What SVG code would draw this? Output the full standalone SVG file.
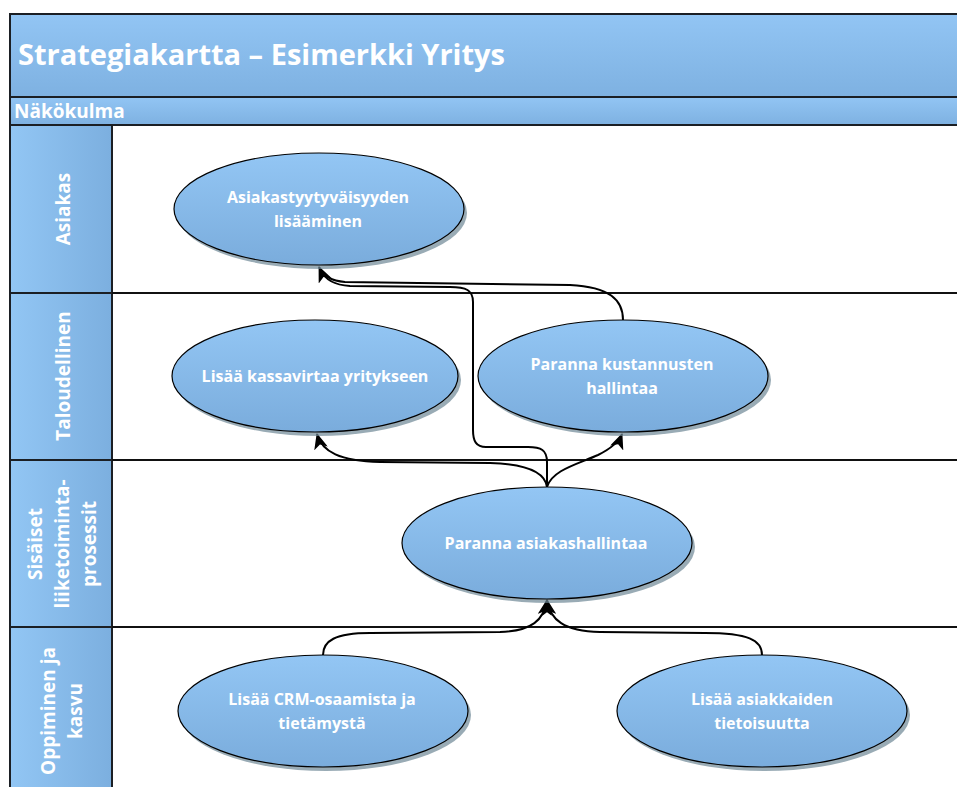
<svg xmlns="http://www.w3.org/2000/svg" width="957" height="787" viewBox="0 0 957 787">
  <defs>
    <linearGradient id="bandGrad" x1="0" y1="0" x2="0" y2="1">
      <stop offset="0" stop-color="#92c5f4"/>
      <stop offset="1" stop-color="#7eb1e1"/>
    </linearGradient>
    <linearGradient id="colGrad" x1="0" y1="0" x2="1" y2="0">
      <stop offset="0" stop-color="#92c6f4"/>
      <stop offset="1" stop-color="#7cafdf"/>
    </linearGradient>
    <linearGradient id="nodeGrad" x1="0" y1="0" x2="0" y2="1">
      <stop offset="0" stop-color="#93c6f4"/>
      <stop offset="1" stop-color="#7aacdc"/>
    </linearGradient>
    <marker id="arrow" viewBox="0 0 16 14" refX="15" refY="7" markerWidth="16" markerHeight="14" markerUnits="userSpaceOnUse" orient="auto">
      <path d="M0,0 L16,7 L0,14 L4,7 Z" fill="#000"/>
    </marker>
  </defs>
  <style>
    .band { fill: url(#bandGrad); stroke: #1b1f24; stroke-width: 2; }
    .col { fill: url(#colGrad); stroke: #1b1f24; stroke-width: 2; }
    .sep { stroke: #111; stroke-width: 2; fill: none; }
    .node { fill: url(#nodeGrad); stroke: #000; stroke-width: 1.2; }
    .shadow { fill: #6d8796; opacity: 0.7; }
    .title { font-family: "Open Sans", "Liberation Sans", sans-serif; font-weight: bold; fill: #fff; }
    .lane { font-family: "Open Sans", "Liberation Sans", sans-serif; font-weight: bold; font-size: 19px; fill: #fff; text-anchor: middle; }
    .label { font-family: "Open Sans", "Liberation Sans", sans-serif; font-weight: bold; font-size: 16px; fill: #fff; text-anchor: middle; }
    .conn { fill: none; stroke: #000; stroke-width: 2; }
  </style>

  <!-- header bands -->
  <g id="header">
    <rect class="band" x="10" y="14" width="960" height="83"/>
    <text class="title" x="18" y="65" font-size="29">Strategiakartta – Esimerkki Yritys</text>
    <rect class="band" x="10" y="97" width="960" height="28"/>
    <text class="title" x="14" y="118" font-size="19">Näkökulma</text>
  </g>

  <!-- perspective column and lane separators -->
  <g id="lanes">
    <rect class="col" x="10" y="125" width="102" height="168"/>
    <rect class="col" x="10" y="293" width="102" height="167"/>
    <rect class="col" x="10" y="460" width="102" height="167"/>
    <rect class="col" x="10" y="627" width="102" height="170"/>
    <line class="sep" x1="112" y1="293" x2="960" y2="293"/>
    <line class="sep" x1="112" y1="460" x2="960" y2="460"/>
    <line class="sep" x1="112" y1="627" x2="960" y2="627"/>
    <text class="lane" transform="rotate(-90,0,0)" x="-209" y="70">Asiakas</text>
    <text class="lane" transform="rotate(-90,0,0)" x="-376" y="70">Taloudellinen</text>
    <text class="lane" transform="rotate(-90,0,0)" x="-544" y="42">Sisäiset</text>
    <text class="lane" transform="rotate(-90,0,0)" x="-544" y="69">liiketoiminta-</text>
    <text class="lane" transform="rotate(-90,0,0)" x="-544" y="96">prosessit</text>
    <text class="lane" transform="rotate(-90,0,0)" x="-711" y="55">Oppiminen ja</text>
    <text class="lane" transform="rotate(-90,0,0)" x="-711" y="82">kasvu</text>
  </g>

  <!-- connectors -->
  <g id="connectors">
    <path class="conn" marker-end="url(#arrow)" d="M547,487 C545,472 525,464 490,463 L380,462 C340,461 322,452 317,434"/>
    <path class="conn" marker-end="url(#arrow)" d="M547,487 C552,470 578,464 598,455 C612,448 619,442 622,434"/>
    <path class="conn" d="M547,487 L547,462 C547,450 541,447 528,447 L486,447 C476,447 473,441 473,430 L473,302 C473,290 466,287 450,287 L350,286 C334,285 325,280 321,270"/>
    <path class="conn" marker-end="url(#arrow)" d="M623,320 C623,300 610,287 570,285 L345,282 C332,281 323,276 319,267"/>
    <path class="conn" marker-end="url(#arrow)" d="M323,655 C323,641 335,633 370,633 L500,632 C532,631 544,620 547,600"/>
    <path class="conn" marker-end="url(#arrow)" d="M762,655 C762,640 748,633 705,633 L600,632 C564,631 550,620 547,600"/>
  </g>

  <!-- objectives -->
  <g id="node-asiakastyytyvaisyys">
    <ellipse class="shadow" cx="322" cy="213" rx="145" ry="56"/>
    <ellipse class="node" cx="319" cy="209" rx="145" ry="56"/>
    <text class="label" x="318" y="203">Asiakastyytyväisyyden</text>
    <text class="label" x="318" y="227">lisääminen</text>
  </g>
  <g id="node-kassavirta">
    <ellipse class="shadow" cx="318" cy="380" rx="143" ry="56"/>
    <ellipse class="node" cx="315" cy="376" rx="143" ry="56"/>
    <text class="label" x="315" y="382">Lisää kassavirtaa yritykseen</text>
  </g>
  <g id="node-kustannukset">
    <ellipse class="shadow" cx="626" cy="380" rx="145" ry="56"/>
    <ellipse class="node" cx="623" cy="376" rx="145" ry="56"/>
    <text class="label" x="622" y="370">Paranna kustannusten</text>
    <text class="label" x="622" y="394">hallintaa</text>
  </g>
  <g id="node-asiakashallinta">
    <ellipse class="shadow" cx="550" cy="547" rx="145" ry="56"/>
    <ellipse class="node" cx="547" cy="543" rx="145" ry="56"/>
    <text class="label" x="546" y="549">Paranna asiakashallintaa</text>
  </g>
  <g id="node-crm">
    <ellipse class="shadow" cx="326" cy="715" rx="145" ry="56"/>
    <ellipse class="node" cx="323" cy="711" rx="145" ry="56"/>
    <text class="label" x="322" y="705">Lisää CRM-osaamista ja</text>
    <text class="label" x="322" y="729">tietämystä</text>
  </g>
  <g id="node-tietoisuus">
    <ellipse class="shadow" cx="765" cy="715" rx="145" ry="56"/>
    <ellipse class="node" cx="762" cy="711" rx="145" ry="56"/>
    <text class="label" x="762" y="705">Lisää asiakkaiden</text>
    <text class="label" x="762" y="729">tietoisuutta</text>
  </g>
</svg>
